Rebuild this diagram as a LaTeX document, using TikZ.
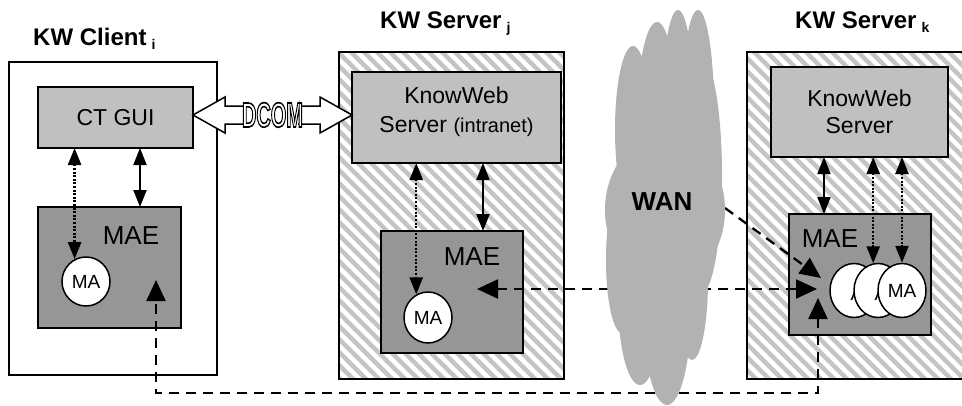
\documentclass[tikz,border=0pt]{standalone}
\usepackage{fontspec}
\setmainfont{Liberation Sans}
\usetikzlibrary{arrows.meta,shapes.geometric}
\definecolor{lgray}{HTML}{C0C0C0}
\definecolor{dgray}{HTML}{969696}
\definecolor{cgray}{HTML}{B2B2B2}
\definecolor{hgray}{HTML}{C4C4C4}
\newcommand{\myfs}[1]{\fontsize{#1pt}{#1pt}\selectfont}
\newcommand{\mysub}[1]{\hspace{5pt}\raisebox{-4pt}{\myfs{14}#1}}
\newcommand{\outlinetext}[1]{\special{pdf:literal direct 2 Tr 1.6 w 0 G}#1\special{pdf:literal direct 0 Tr}}
\begin{document}
\begin{tikzpicture}[x=1pt,y=-1pt,
  box/.style={draw, line width=1.5pt, inner sep=0pt, outer sep=0pt},
  lightbox/.style={box, fill=lgray, align=center, font={\fontsize{23pt}{27pt}\selectfont}},
  kwtxt/.style={inner sep=0pt, align=center, font={\fontsize{23pt}{29pt}\selectfont}},
  maebox/.style={box, fill=dgray},
  maetxt/.style={font=\myfs{26}, inner sep=0pt},
  agent/.style={ellipse, draw, line width=1.5pt, fill=white, minimum width=48pt, inner sep=0pt, font=\myfs{19}},
  head/.style={font=\bfseries\myfs{24}, inner sep=0pt},
  solidarr/.style={line width=2pt, {Triangle[length=17pt,width=13pt]}-{Triangle[length=17pt,width=13pt]}},
  dotarr/.style={solidarr, line width=2.5pt, dash pattern=on 2pt off 1.6pt},
  dasharr/.style={line width=2.3pt, dash pattern=on 10pt off 7pt},
  dashboth/.style={dasharr, {Triangle[length=21pt,width=19pt]}-{Triangle[length=21pt,width=19pt]}},
  dashend/.style={dasharr, -{Triangle[length=21pt,width=19pt]}},
  dcomtxt/.style={font=\bfseries\myfs{35}, xscale=0.57, inner sep=0pt, text=white}
]
\useasboundingbox (0,0) rectangle (962,405);

% hatching of server boxes
\begin{scope}
\clip (339,52) rectangle (564,379) (747,52) rectangle (990,379);
\foreach \c in {-949,-936,...,60} \draw[hgray, line width=4.5pt] (300,{300+\c}) -- (1000,{1000+\c});
\end{scope}

% outer boxes
\node[box, minimum width=208pt, minimum height=313pt] (client) at (113,218.5) {};
\node[box, minimum width=225pt, minimum height=327pt] (srvj) at (451.5,215.5) {};
\node[box, minimum width=240pt, minimum height=327pt] (srvk) at (867,215.5) {};

% headings
\node[head, anchor=base west] (hc) at (33,45) {KW Client\mysub{i}};
\node[head, anchor=base west] (hj) at (380,28) {KW Server\mysub{j}};
\node[head, anchor=base west] (hk) at (795,28) {KW Server\mysub{k}};

% client
\node[lightbox, minimum width=155pt, minimum height=61pt] (ctgui) at (115.5,117.5) {CT GUI};
\node[maebox, minimum width=143pt, minimum height=121pt] (maeC) at (109.5,267.5) {};
\node[maetxt] (maeCt) at (131,236) {MAE};
\node[agent, minimum height=49pt] (maC) at (86,281.5) {MA};

% server j
\node[lightbox, minimum width=209pt, minimum height=91pt] (kwj) at (456.5,117.5) {};
\node[kwtxt] (kwjt) at (456.5,112) {KnowWeb\\Server {\myfs{20}(intranet)}};
\node[maebox, minimum width=142pt, minimum height=122pt] (maeJ) at (452,292) {};
\node[maetxt] (maeJt) at (472,257) {MAE};
\node[agent, minimum height=51pt] (maJ) at (428,317.5) {MA};

% server k
\node[lightbox, minimum width=177pt, minimum height=90pt] (kwk) at (859.5,112) {KnowWeb\\Server};
\node[maebox, minimum width=142pt, minimum height=121pt] (maeK) at (860,274.5) {};
\node[maetxt] (maeKt) at (830,239) {MAE};
\node[agent, minimum height=54pt] (ma1) at (854,290.5) {};
\node[font=\myfs{19}, inner sep=0pt] (ma1t) at (857,294) {A};
\node[agent, minimum height=54pt] (ma2) at (878,290.5) {};
\node[font=\myfs{19}, inner sep=0pt] (ma2t) at (881,294) {A};
\node[agent, minimum height=54pt] (ma3) at (902,290.5) {MA};

% DCOM block arrow
\draw[line width=1.5pt, fill=white, line join=miter]
  ([yshift=2.5pt]ctgui.east) -- ++(32,-18) -- ++(0,9) -- ++(95,0) -- ++(0,-9)
  -- ([yshift=2.5pt]kwj.west) -- ++(-32,18) -- ++(0,-9) -- ++(-95,0) -- ++(0,9) -- cycle;
\fill[white] (247,104) rectangle (298,126);
\node[dcomtxt] (dcom) at (272.5,115) {\outlinetext{DCOM}};

% solid and dotted arrows
\draw[dotarr] (ctgui.south -| maC.117) -- (maC.117);
\draw[solidarr] ([xshift=24.5pt]ctgui.south) -- ([xshift=30.5pt]maeC.north);
\draw[dotarr] (kwj.south -| maJ.117) -- (maJ.117);
\draw[solidarr] ([xshift=26.5pt]kwj.south) -- ([xshift=31pt]maeJ.north);
\draw[solidarr] ([xshift=-35.5pt]kwk.south) -- ([xshift=-36pt]maeK.north);
\draw[dotarr] (kwk.south -| ma2.100) -- (ma2.100);
\draw[dotarr] (kwk.south -| ma3.north) -- (ma3.north);

% dashed arrows
\coordinate (hubD) at (821,278);
\coordinate (hubH) at (817,289);
\coordinate (hubV) at (818,298);
\coordinate (jin) at (477,289);
\coordinate (cin) at (156,280);
\coordinate (wanE) at (725,208);
\draw[dashboth] (jin) -- (hubH);
\draw[dashboth] (hubV) -- ++(0,95) -| (cin);
\draw[dashend] (wanE) -- (hubD);

% WAN cloud
\fill[cgray] (633,130) ellipse [x radius=18pt, y radius=84pt];
\fill[cgray] (657,120) ellipse [x radius=20pt, y radius=98pt];
\fill[cgray] (678,110) ellipse [x radius=16pt, y radius=100pt];
\fill[cgray] (698,110) ellipse [x radius=16pt, y radius=100pt];
\fill[cgray] (700,175) ellipse [x radius=22pt, y radius=120pt];
\fill[cgray] (665,210) ellipse [x radius=60pt, y radius=75pt];
\fill[cgray] (622,260) ellipse [x radius=16pt, y radius=73pt];
\fill[cgray] (640,300) ellipse [x radius=22pt, y radius=85pt];
\fill[cgray] (667,310) ellipse [x radius=24pt, y radius=95pt];
\fill[cgray] (692,280) ellipse [x radius=16pt, y radius=80pt];
\fill[cgray] (660,280) ellipse [x radius=48pt, y radius=60pt];
\node[font=\bfseries\myfs{26}, inner sep=0pt] (wan) at (662,202) {WAN};
\end{tikzpicture}
\end{document}
